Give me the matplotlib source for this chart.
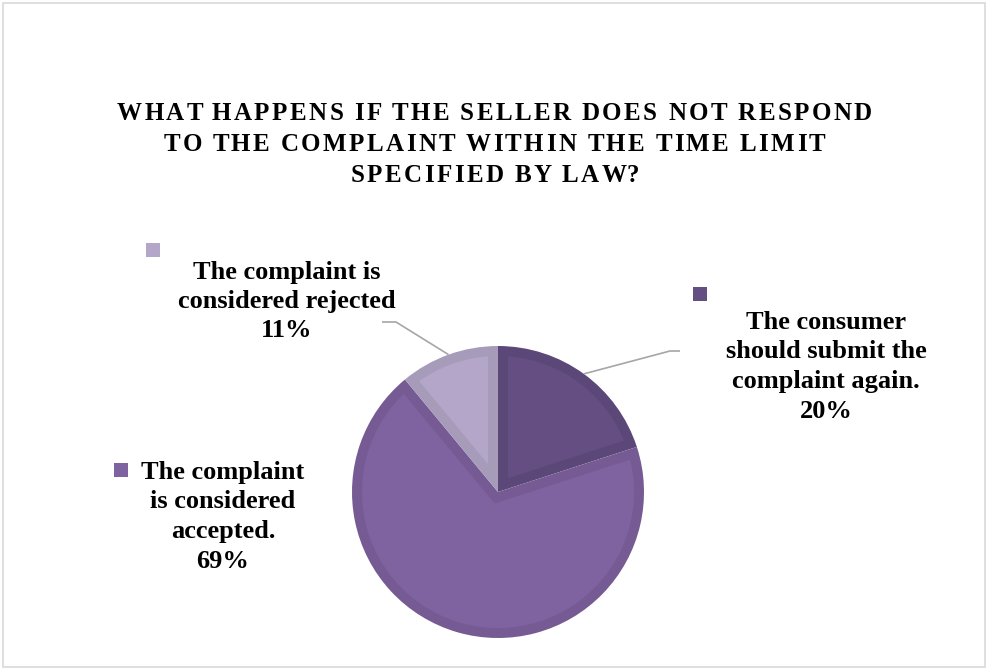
import matplotlib
matplotlib.use("Agg")
import matplotlib.pyplot as plt
import numpy as np
from matplotlib.font_manager import FontProperties
from matplotlib.patches import Rectangle, Polygon

# ---- data ----
categories = [
    "The consumer should submit the complaint again.",
    "The complaint is considered accepted.",
    "The complaint is considered rejected",
]
shares = [20, 69, 11]
label_lines = [
    ["The consumer", "should submit the", "complaint again.", "20%"],
    ["The complaint", "is considered", "accepted.", "69%"],
    ["The complaint is", "considered rejected", "11%"],
]
title_lines = [
    "WHAT HAPPENS IF THE SELLER DOES NOT RESPOND",
    "TO THE COMPLAINT WITHIN THE TIME LIMIT",
    "SPECIFIED BY LAW?",
]

fill_colors = ["#654f82", "#7f63a0", "#b3a6c8"]
edge_colors = ["#5c4878", "#765a94", "#a69cba"]

W, H = 987, 669
fig = plt.figure(figsize=(W / 100, H / 100), dpi=100)
ax = fig.add_axes([0, 0, 1, 1])

def py(y):
    """Convert a top-down pixel row into the axes' bottom-up coordinate."""
    return H - y

cx, cy, R = 498, 492, 146
# outer wedges carry the darker rim colour
wedges, _ = ax.pie(shares, colors=edge_colors, startangle=90, counterclock=False,
                   center=(cx, py(cy)), radius=R, frame=True,
                   wedgeprops=dict(linewidth=0))
ax.set_xlim(0, W)
ax.set_ylim(0, H)
ax.set_aspect("equal")
ax.axis("off")

def inset_outline(w, d, n=120):
    """Outline of a wedge shrunk inward by d (mitred corner at the apex)."""
    c = np.asarray(w.center, float)
    r = w.r - d
    t1, t2 = np.deg2rad(w.theta1), np.deg2rad(w.theta2)
    half = (t2 - t1) / 2
    bis = t1 + half
    apex = c + d / np.sin(half) * np.array([np.cos(bis), np.sin(bis)])
    da = np.arctan2(d, np.sqrt(r * r - d * d))
    angs = np.linspace(t1 + da, t2 - da, n)
    arc = c + r * np.column_stack([np.cos(angs), np.sin(angs)])
    return np.vstack([apex, arc])

for wd, fc in zip(wedges, fill_colors):
    ax.add_patch(Polygon(inset_outline(wd, 10), closed=True, facecolor=fc,
                         edgecolor="none"))

serif = "Liberation Serif"

# ---- title with letter spacing ----
fig.canvas.draw()
renderer = fig.canvas.get_renderer()
tfp = FontProperties(family=serif, weight="bold", size=18)

def tw(t):
    return renderer.get_text_width_height_descent(t, tfp, ismath=False)[0]

def char_offsets(s):
    ref = tw("H")
    offs = [0.0]
    for i in range(1, len(s)):
        offs.append(tw(s[:i] + "H") - ref)
    return offs

def natural_width(s):
    return char_offsets(s)[-1] + tw(s[-1])

first = title_lines[0]
tracking = (755 - natural_width(first)) / (len(first) - 1)
title_cx = 494.5
title_baselines = [119.5, 151, 182.5]
for line, by in zip(title_lines, title_baselines):
    offs = char_offsets(line)
    total = offs[-1] + tw(line[-1]) + tracking * (len(line) - 1)
    x0 = title_cx - total / 2
    for i, ch in enumerate(line):
        if ch == " ":
            continue
        ax.text(x0 + offs[i] + i * tracking, py(by), ch, fontproperties=tfp,
                ha="left", va="baseline", color="#000000")

# ---- data labels ----
label_size = 19
label_cx = [826, 223, 287]
label_baselines = [
    [329, 358.5, 388, 417.5],
    [479, 508.5, 538, 567.5],
    [279, 308, 337],
]
marker_boxes = [(693, 287), (114, 463), (146, 243)]  # top-left corners
mk = 14
for lines, lx, bys, color, (mx, my) in zip(label_lines, label_cx, label_baselines,
                                           fill_colors, marker_boxes):
    for t, by in zip(lines, bys):
        ax.text(lx, py(by), t, family=serif, weight="bold", size=label_size,
                ha="center", va="baseline", color="#000000")
    ax.add_patch(Rectangle((mx, py(my + mk)), mk, mk, facecolor=color,
                           edgecolor="none"))

# ---- leader lines from wedge mid-angles ----
def mid_point(w):
    a = np.deg2rad((w.theta1 + w.theta2) / 2)
    return cx + R * np.cos(a), py(cy) + R * np.sin(a)

leader_ends = {0: [(680, 351), (670, 351)], 2: [(382, 322), (396, 322)]}
for idx, pts in leader_ends.items():
    x1, y1 = mid_point(wedges[idx])
    xs = [p[0] for p in pts] + [x1]
    ys = [py(p[1]) for p in pts] + [y1]
    ax.plot(xs, ys, color="#a6a6a6", linewidth=1.2, solid_capstyle="butt")

# ---- chart area border ----
fig.patches.append(Rectangle((3.5 / W, 2.5 / H), (985.5 - 3.5) / W, (666.5 - 2.5) / H,
                             transform=fig.transFigure, fill=False,
                             edgecolor="#d9d9d9", linewidth=1.2))

fig.savefig("out.png", dpi=100, facecolor="white")
